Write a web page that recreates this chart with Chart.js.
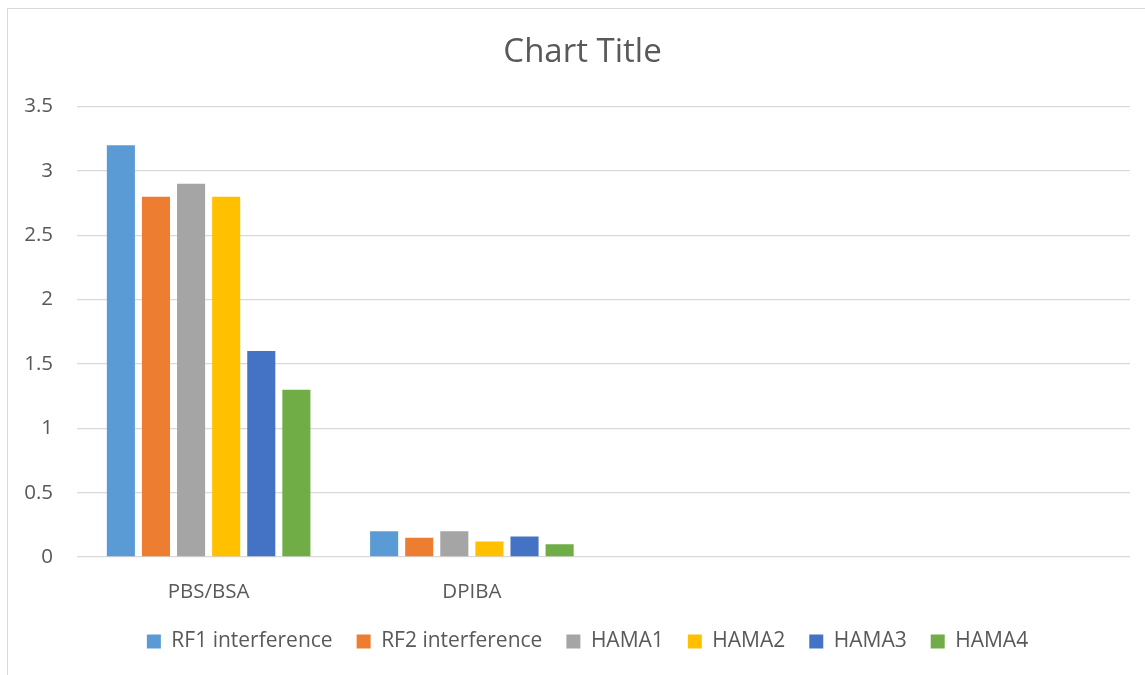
<!DOCTYPE html>
<html>
<head>
<meta charset="utf-8">
<script src="https://cdn.jsdelivr.net/npm/chart.js@4.4.0/dist/chart.umd.min.js"></script>
<style>
  html, body { margin: 0; padding: 0; background: #fff; overflow: hidden; width: 1145px; height: 675px; }
  #marco { position: absolute; left: 7px; top: 8px; width: 1160px; height: 680px; border: 1px solid #d9d9d9; }
</style>
</head>
<body>
<div id="marco"><canvas id="grafica" width="1160" height="680"></canvas></div>
<script>
// categorias (las dos ultimas vacias, como en la hoja original)
const categorias = ['PBS/BSA', 'DPIBA', '', ''];

const rf1 = [3.2, 0.2, null, null];
const rf2 = [2.8, 0.15, null, null];
const hama1 = [2.9, 0.2, null, null];
const hama2 = [2.8, 0.12, null, null];
const hama3 = [1.6, 0.16, null, null];
const hama4 = [1.3, 0.1, null, null];

const nombresSeries = ['RF1 interference', 'RF2 interference', 'HAMA1', 'HAMA2', 'HAMA3', 'HAMA4'];
const coloresSeries = ['#5b9bd5', '#ed7d31', '#a5a5a5', '#ffc000', '#4472c4', '#70ad47'];

const TEXTO = '#595959';
const FUENTE = "'Open Sans', sans-serif";

const valores = [rf1, rf2, hama1, hama2, hama3, hama4];
const datasets = valores.map((serie, i) => ({
  label: nombresSeries[i],
  data: serie,
  backgroundColor: coloresSeries[i],
  borderWidth: 0,
  categoryPercentage: 0.8,
  barPercentage: 0.8,
}));

// el titulo y la leyenda de Excel quedan un poco a la derecha del centro
const desplazarCentro = {
  id: 'desplazarCentro',
  afterLayout(chart) {
    if (chart.legend) { chart.legend.left += 10; chart.legend.right += 10; }
    if (chart.titleBlock) { chart.titleBlock.left += 5; chart.titleBlock.right += 5; }
  },
};

new Chart(document.getElementById('grafica').getContext('2d'), {
  type: 'bar',
  data: { labels: categorias, datasets },
  plugins: [desplazarCentro],
  options: {
    responsive: false,
    animation: false,
    layout: { padding: { left: 17, right: 38, top: 0, bottom: 27 } },
    plugins: {
      tooltip: { enabled: false },
      title: {
        display: true,
        text: 'Chart Title',
        color: TEXTO,
        font: { family: FUENTE, size: 33, weight: 'normal' },
        padding: { top: 24, bottom: 34 },
      },
      legend: {
        position: 'bottom',
        labels: {
          color: TEXTO,
          font: { family: FUENTE, size: 21 },
          boxWidth: 14,
          boxHeight: 14,
          padding: 24,
        },
      },
    },
    scales: {
      x: {
        grid: { display: false, drawTicks: false },
        border: { display: false },
        ticks: { color: TEXTO, font: { family: FUENTE, size: 20.5 }, padding: 23, maxRotation: 0 },
        afterFit: escala => { escala.height = 50; },
      },
      y: {
        min: 0,
        max: 3.5,
        grid: { color: '#d9d9d9', lineWidth: 1.3, drawTicks: false },
        border: { display: false },
        ticks: {
          stepSize: 0.5,
          color: TEXTO,
          font: { family: FUENTE, size: 20.5 },
          padding: 24,
          callback: valor => String(Number(valor.toFixed(1))),
        },
        afterFit: escala => { escala.width = 52; },
      },
    },
  },
});
</script>
</body>
</html>
